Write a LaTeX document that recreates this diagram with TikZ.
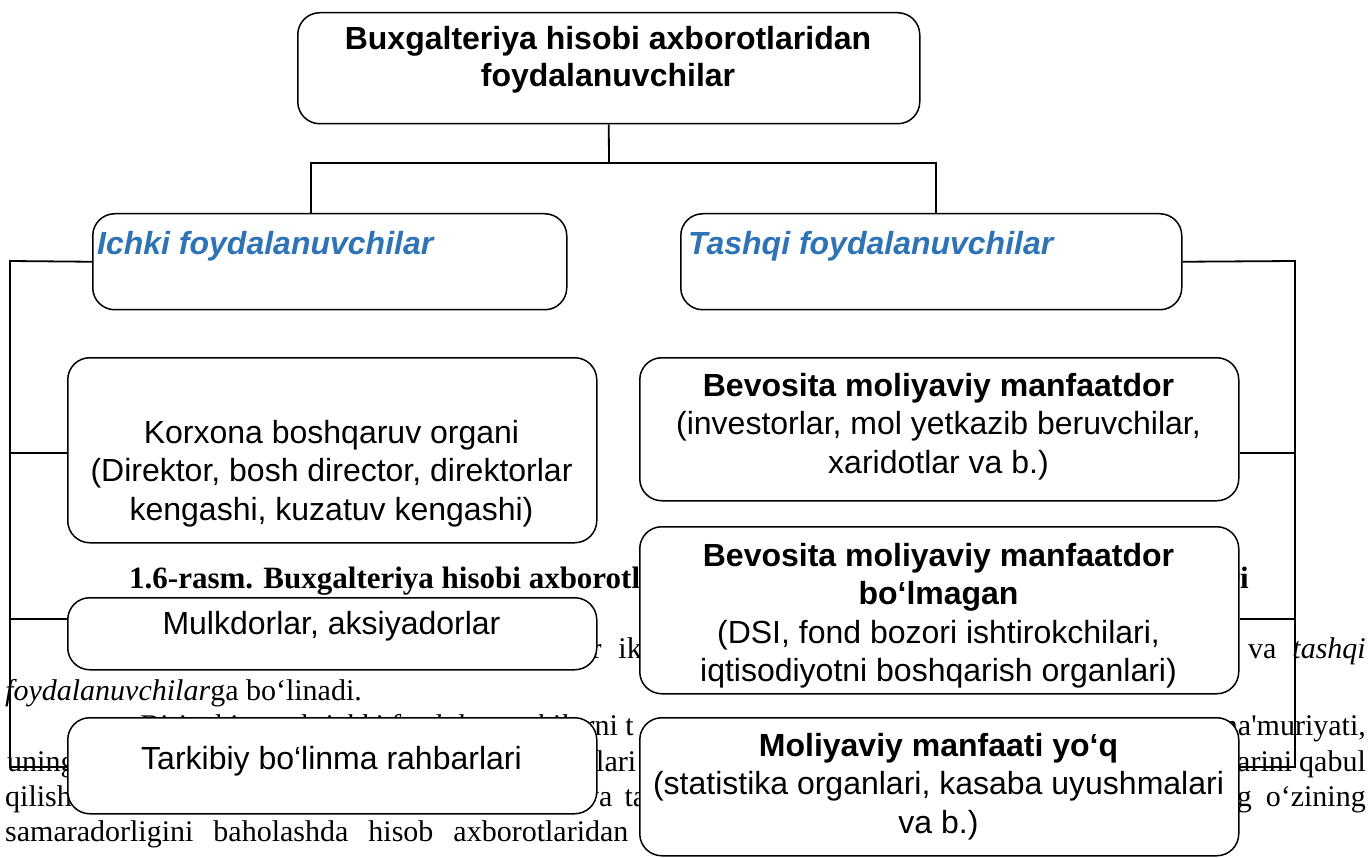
\documentclass[tikz,border=0pt]{standalone}
\usepackage{fontspec}
\newfontfamily\boxfont{Liberation Sans}
\newfontfamily\pagefont{Liberation Serif}
\definecolor{headblue}{RGB}{46,116,181}
\newcommand{\tstrut}{\rule{0pt}{24pt}}
\tikzset{
  panel/.style={draw, line width=1.5pt, rounded corners=22pt, fill=white,
    anchor=north west, inner sep=0pt},
  link/.style={line width=1.8pt},
  boxtext/.style={font=\boxfont\fontsize{32}{38.5}\selectfont, align=center,
    inner sep=0pt, anchor=north},
  boldtext/.style={font=\boxfont\bfseries\fontsize{32}{37}\selectfont, align=center,
    inner sep=0pt, anchor=north},
  headtext/.style={font=\boxfont\bfseries\itshape\fontsize{32}{38}\selectfont,
    text=headblue, inner sep=0pt, anchor=base west},
  pagetext/.style={font=\pagefont\fontsize{30}{36}\selectfont, inner sep=0pt,
    anchor=base west},
  captext/.style={font=\pagefont\bfseries\fontsize{31}{36}\selectfont, inner sep=0pt,
    anchor=base west},
}
\begin{document}
\begin{tikzpicture}[x=1pt, y=-1pt]
\useasboundingbox (0,0) rectangle (1372,858);

% running page text behind the chart
\node[captext] (cap1) at (129,588) {1.6-rasm. Buxgalteriya hisobi axborotlaridan};
\node[captext, anchor=base east] (cap2) at (1249,588) {lari};
\node[pagetext] (l2a) at (578,658) {ar\hspace{17pt}ikki};
\node[pagetext, anchor=base east] (l2b) at (1366,658) {va\hspace{16pt}\textit{tashqi}};
\node[pagetext] (l3) at (5,700) {\textit{foydalanuvchilar}ga bo‘linadi.};
\node[pagetext, anchor=base east] (l4a) at (634,735) {Birinchi guruh \textit{ichki foydalanuvchilar}ni t};
\node[pagetext, anchor=base east] (l4b) at (1366,735) {ma'muriyati,};
\node[pagetext] (l5a) at (7,771) {uning};
\node[pagetext] (l5b) at (596,771) {lari};
\node[pagetext, anchor=base east] (l5c) at (1366,771) {qarorlarini\hspace{7pt}qabul};
\node[pagetext] (l6a) at (5,806) {qilish};
\node[pagetext] (l6b) at (584,806) {va\hspace{12pt}ta};
\node[pagetext, anchor=base east] (l6c) at (1366,806) {ning\hspace{14pt}o‘zining};
\node[pagetext] (l7) at (5,841) {samaradorligini\hspace{20pt}baholashda\hspace{20pt}hisob\hspace{20pt}axborotlaridan\hspace{20pt}foydalanadi.};

% boxes
\node[panel, minimum width=622pt, minimum height=111pt] (top) at (297,12) {};
\node[panel, minimum width=474pt, minimum height=96pt] (ichki) at (92,213) {};
\node[panel, minimum width=501pt, minimum height=96pt] (tashqi) at (680,213) {};

\node[panel, minimum width=529pt, minimum height=185pt] (korxona) at (67,357) {};
\node[panel, minimum width=529pt, minimum height=72pt] (mulk) at (67,597) {};
\node[panel, minimum width=529pt, minimum height=96pt] (tarkib) at (67,717) {};

\node[panel, minimum width=599pt, minimum height=143pt] (bevosita) at (639,357) {};
\node[panel, minimum width=599pt, minimum height=167pt] (bolmagan) at (639,526) {};
\node[panel, minimum width=599pt, minimum height=138pt] (yoq) at (639,717) {};

% junction points of the connector lines
\coordinate (hub) at (609,163);
\coordinate (hl) at (311,163);
\coordinate (hr) at (936,163);
\coordinate (lt) at (10,261);
\coordinate (lb) at (10,767);
\coordinate (lm) at (10,619);
\coordinate (lk) at (10,453);
\coordinate (rt) at (1295,261);
\coordinate (rb) at (1295,767);
\coordinate (rm) at (1295,619);
\coordinate (rk) at (1295,453);

% connectors
\draw[link] (top.south) -- (hub);
\draw[link] (hl |- ichki.north) -- (hl) -- (hr) -- (hr |- tashqi.north);
\draw[link] (ichki.west) -- (lt) -- (lb) -- (tarkib.west |- lb);
\draw[link] (lk) -- (korxona.west |- lk);
\draw[link] (lm) -- (mulk.west |- lm);
\draw[link] (tashqi.east) -- (rt) -- (rb) -- (yoq.east |- rb);
\draw[link] (rk) -- (bevosita.east |- rk);
\draw[link] (rm) -- (bolmagan.east |- rm);

% box texts
\node[boldtext] (top-t) at (608,25) {\tstrut Buxgalteriya hisobi axborotlaridan\\foydalanuvchilar};
\node[headtext] (ichki-t) at (97,255) {Ichki foydalanuvchilar};
\node[headtext] (tashqi-t) at (688,255) {Tashqi foydalanuvchilar};

\node[boxtext] (korxona-t) at (331.5,419) {\tstrut Korxona boshqaruv organi\\(Direktor, bosh director, direktorlar\\kengashi, kuzatuv kengashi)};
\node[boxtext] (mulk-t) at (331.5,610) {\tstrut Mulkdorlar, aksiyadorlar};
\node[boxtext] (tarkib-t) at (331.5,745) {\tstrut Tarkibiy bo‘linma rahbarlari};

\node[boxtext] (bevosita-t) at (938.5,372) {\tstrut\textbf{Bevosita moliyaviy manfaatdor}\\(investorlar, mol yetkazib beruvchilar,\\xaridotlar va b.)};
\node[boxtext] (bolmagan-t) at (938.5,542) {\tstrut\textbf{Bevosita moliyaviy manfaatdor}\\\textbf{bo‘lmagan}\\(DSI, fond bozori ishtirokchilari,\\iqtisodiyotni boshqarish organlari)};
\node[boxtext] (yoq-t) at (938.5,732) {\tstrut\textbf{Moliyaviy manfaati yo‘q}\\(statistika organlari, kasaba uyushmalari\\va b.)};
\end{tikzpicture}
\end{document}
